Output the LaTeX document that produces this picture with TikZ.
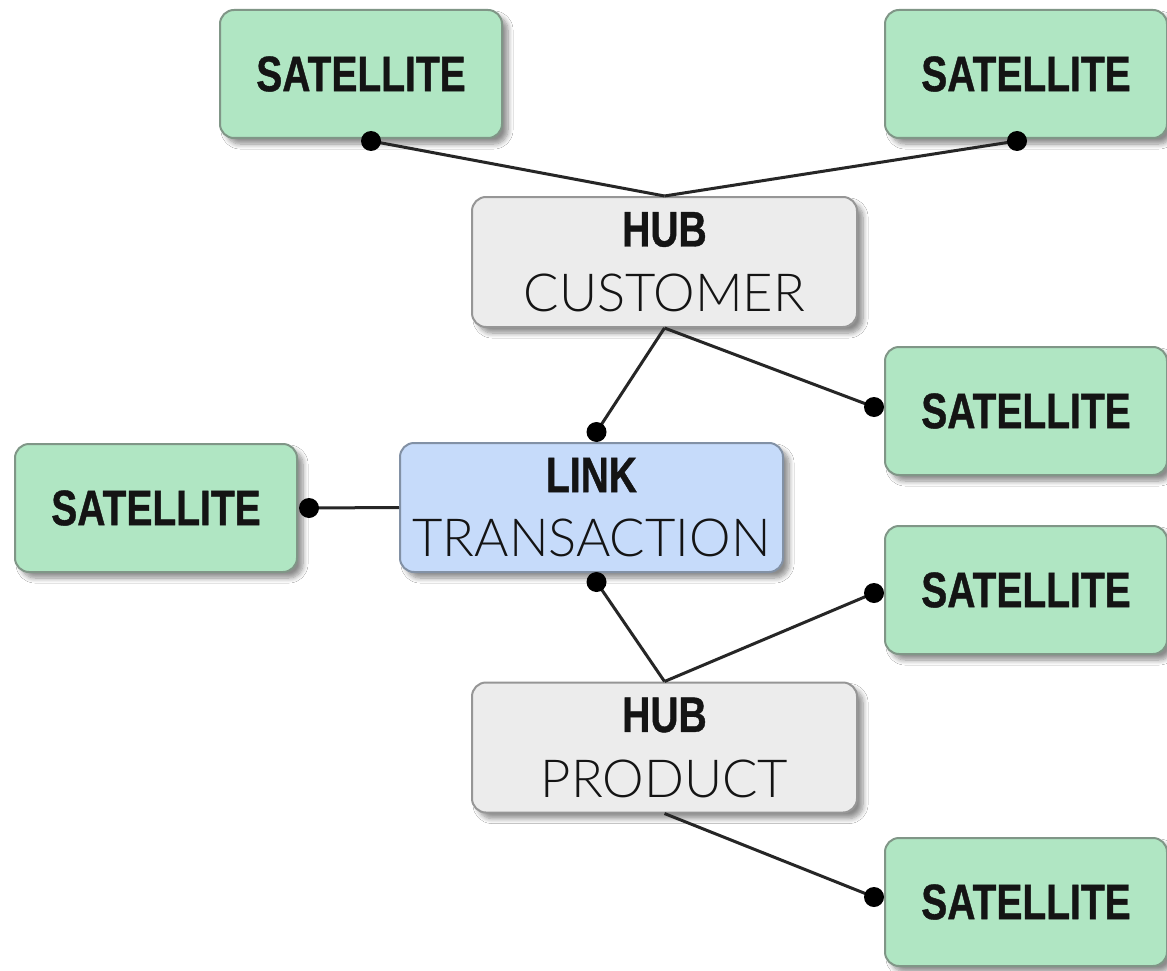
\documentclass[tikz,border=0pt]{standalone}
\usepackage{fontspec}
\setmainfont{Liberation Sans}
\newfontfamily\condbold[FakeStretch=0.78,FakeBold=0.8]{Liberation Sans Bold}
\newfontfamily\thinfont{Lato Light}
\usetikzlibrary{shadows.blur,calc}

\definecolor{satfill}{RGB}{176,230,195}
\definecolor{satline}{RGB}{128,150,135}
\definecolor{hubfill}{RGB}{236,236,236}
\definecolor{hubline}{RGB}{150,150,150}
\definecolor{linkfill}{RGB}{198,219,250}
\definecolor{linkline}{RGB}{130,145,165}
\definecolor{inktext}{RGB}{20,20,20}

\tikzset{
  box/.style={rectangle, rounded corners=14pt, line width=2pt, inner sep=0pt,
    align=center, text=inktext,
    blur shadow={shadow xshift=6pt, shadow yshift=-6pt, shadow blur steps=8,
      shadow opacity=45, shadow blur radius=5pt}},
  satbox/.style={box, fill=satfill, draw=satline,
    minimum width=282pt, minimum height=128pt,
    font=\condbold\fontsize{50}{60}\selectfont},
  hubbox/.style={box, fill=hubfill, draw=hubline,
    minimum width=385pt, minimum height=130pt},
  linkbox/.style={box, fill=linkfill, draw=linkline,
    minimum width=383pt, minimum height=129pt},
  conn/.style={line width=3pt, black!85},
  dot/.style={circle, fill=black, inner sep=0pt, minimum size=20pt},
}
\newcommand{\kindline}[1]{{\condbold\fontsize{50}{50}\selectfont #1}}
\newcommand{\nameline}[1]{{\thinfont\fontsize{52.5}{52.5}\selectfont #1}}

\begin{document}
\begin{tikzpicture}[x=1pt, y=-1pt]
  \useasboundingbox[fill=white] (0,0) rectangle (1167,971);

  % satellites
  \node[satbox] (sTL) at (361,74) {SATELLITE};
  \node[satbox] (sTR) at (1026,74) {SATELLITE};
  \node[satbox] (sR1) at (1026,411) {SATELLITE};
  \node[satbox] (sL)  at (156,508) {SATELLITE};
  \node[satbox] (sR2) at (1026,590) {SATELLITE};
  \node[satbox] (sBR) at (1026,902) {SATELLITE};

  % hubs and link
  \node[hubbox] (hCust) at (664.5,262)
    {\kindline{HUB}\\[26pt]\nameline{CUSTOMER}};
  \node[linkbox] (lTrans) at (591.5,507.5)
    {\kindline{LINK}\\[26pt]\nameline{TRANSACTION}};
  \node[hubbox] (hProd) at (664.5,747.5)
    {\kindline{HUB}\\[26pt]\nameline{PRODUCT}};

  % attachment points
  \coordinate (pTL) at ($(sTL.south)+(10,2)$);
  \coordinate (pTR) at ($(sTR.south)+(-9,2)$);
  \coordinate (pR1) at ($(sR1.west)+(-10,-4)$);
  \coordinate (pL)  at ($(sL.east)+(11,0)$);
  \coordinate (pR2) at ($(sR2.west)+(-10,3)$);
  \coordinate (pBR) at ($(sBR.west)+(-10,-5)$);
  \coordinate (pLT) at ($(lTrans.north)+(5,-10)$);
  \coordinate (pLB) at ($(lTrans.south)+(5,9)$);

  % connectors
  \draw[conn] (hCust.north) -- (pTL);
  \draw[conn] (hCust.north) -- (pTR);
  \draw[conn] (hCust.south) -- (pLT);
  \draw[conn] (hCust.south) -- (pR1);
  \draw[conn] (lTrans.west) -- (pL);
  \draw[conn] (hProd.north) -- (pLB);
  \draw[conn] (hProd.north) -- (pR2);
  \draw[conn] (hProd.south) -- (pBR);

  % connector ends
  \foreach \p in {pTL,pTR,pR1,pL,pR2,pBR,pLT,pLB}
    \node[dot] (d\p) at (\p) {};
\end{tikzpicture}
\end{document}
